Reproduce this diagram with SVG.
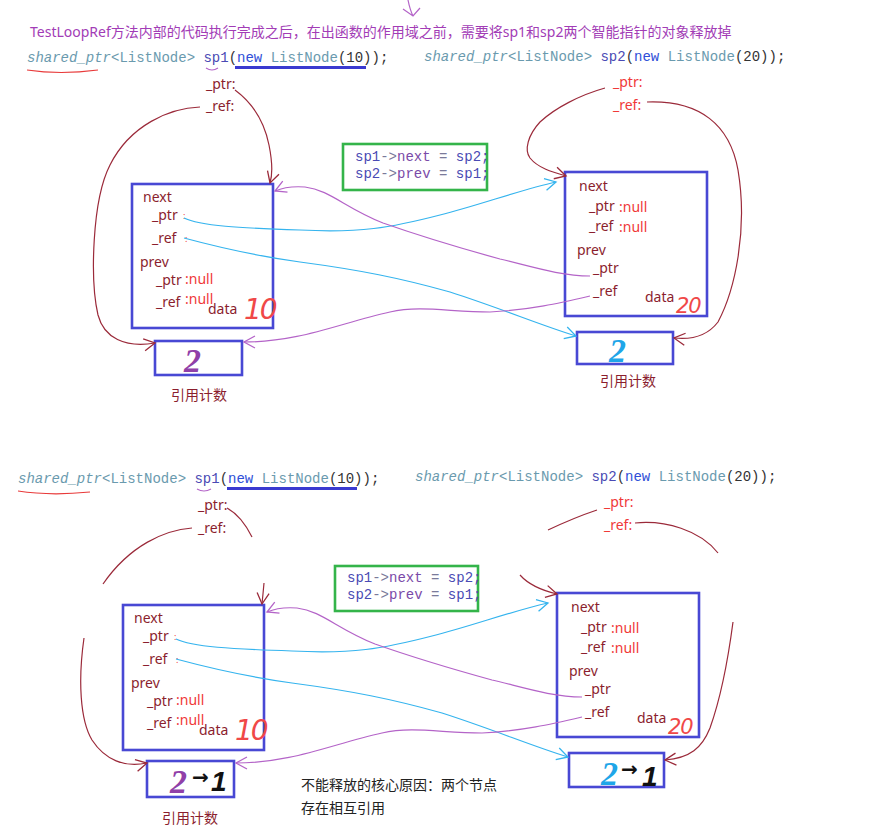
<svg xmlns="http://www.w3.org/2000/svg" width="869" height="832" viewBox="0 0 869 832">
<style>
text{font-family:"Noto Sans","Noto Sans CJK SC",sans-serif;font-size:14px}
.mono{font-family:"Liberation Mono",monospace;font-size:14px}
.lbl{fill:#8b1e2e}
.red{fill:#f03838}
.colon{font-size:9px}
.box{fill:#fff;stroke:#4848d4;stroke-width:2.6}
.cnt{fill:#fff;stroke:#4848d4;stroke-width:2.6}
.green{fill:none;stroke:#34b44a;stroke-width:2.6}
.cr{fill:none;stroke:#9b2a3a;stroke-width:1.2}
.cb{fill:none;stroke:#35b4ee;stroke-width:1.2}
.cp{fill:none;stroke:#b464c8;stroke-width:1.2}
.ty{fill:#6a9aae}
.tp{fill:#4a4ab4}
.tn{fill:#2f4fd8}
.tk{fill:#333}
.num{font-family:"DejaVu Sans",sans-serif;font-weight:200;font-style:italic;font-size:28px;letter-spacing:-2px;fill:#f04848}
.num2{font-family:"DejaVu Sans",sans-serif;font-weight:200;font-style:italic;font-size:21px;letter-spacing:-1px;fill:#f04848}
.big{font-family:"Liberation Serif",serif;font-style:italic;font-weight:bold;font-size:34px}
.one{font-family:"Liberation Sans",sans-serif;font-style:italic;font-weight:bold;font-size:28px;fill:#111}
.arr{font-family:"DejaVu Sans",sans-serif;font-size:20px;font-weight:bold;fill:#111}
</style>
<defs>
<marker id="ar" viewBox="0 0 14 14" refX="12" refY="7" markerWidth="14" markerHeight="14" markerUnits="userSpaceOnUse" orient="auto"><path d="M1,1 L12,7 L1,13" fill="none" stroke="#9b2a3a" stroke-width="1.3"/></marker>
<marker id="ab" viewBox="0 0 14 14" refX="12" refY="7" markerWidth="14" markerHeight="14" markerUnits="userSpaceOnUse" orient="auto"><path d="M1,1 L12,7 L1,13" fill="none" stroke="#35b4ee" stroke-width="1.3"/></marker>
<marker id="ap" viewBox="0 0 14 14" refX="12" refY="7" markerWidth="14" markerHeight="14" markerUnits="userSpaceOnUse" orient="auto"><path d="M1,1 L12,7 L1,13" fill="none" stroke="#b464c8" stroke-width="1.3"/></marker>
</defs>
<rect width="869" height="832" fill="#fff"/>

<g id="title">
<text x="30" y="37" fill="#a23cb6">TestLoopRef方法内部的代码执行完成之后，在出函数的作用域之前，需要将sp1和sp2两个智能指针的对象释放掉</text>
<path d="M408,0 Q410,10 413,16 M403,9 L413,16 L420,8" fill="none" stroke="#b464c8" stroke-width="1.2"/>
</g>

<!-- ===== TOP SECTION ===== -->
<g id="code-sp1">
<text class="mono" x="27" y="62" xml:space="preserve"><tspan class="ty" font-style="italic">shared_ptr</tspan><tspan class="ty">&lt;ListNode&gt; </tspan><tspan class="tp">sp1</tspan><tspan class="tk">(</tspan><tspan class="tn">new</tspan><tspan class="ty"> ListNode</tspan><tspan class="tk">(10));</tspan></text>
<path d="M235,67.5 H366" stroke="#3a3ad0" stroke-width="3"/>
<path d="M27,70 Q60,75 98,70" fill="none" stroke="#e83a3a" stroke-width="1.2"/>
<path d="M206,68 Q212,72 218,68" fill="none" stroke="#b464c8" stroke-width="1.2"/>
</g>
<g id="code-sp2">
<text class="mono" x="424" y="61" xml:space="preserve"><tspan class="ty" font-style="italic">shared_ptr</tspan><tspan class="ty">&lt;ListNode&gt; </tspan><tspan class="tp">sp2</tspan><tspan class="tk">(</tspan><tspan class="tn">new</tspan><tspan class="ty"> ListNode</tspan><tspan class="tk">(20));</tspan></text>
</g>
<g id="sp1-fields">
<text class="lbl" x="206" y="89">_ptr:</text>
<text class="lbl" x="206" y="111">_ref:</text>
</g>
<g id="sp2-fields">
<text class="red" x="613" y="87">_ptr:</text>
<text class="red" x="613" y="110">_ref:</text>
</g>
<g id="node1">
<rect class="box" x="132" y="184" width="141" height="144"/>
<text class="lbl" x="143" y="202">next</text>
<text class="lbl" x="152" y="220">_ptr</text><text class="red colon" x="183" y="219">:</text>
<text class="lbl" x="152" y="243">_ref</text><text class="red colon" x="185" y="242">:</text>
<text class="lbl" x="140" y="267">prev</text>
<text class="lbl" x="156" y="285">_ptr</text><text class="red" x="185" y="284">:null</text>
<text class="lbl" x="156" y="307">_ref</text><text class="red" x="185" y="304">:null</text>
<text class="lbl" x="208" y="314">data</text>
<text class="num" x="244" y="319">10</text>
</g>
<g id="count1">
<rect class="cnt" x="155" y="341" width="87" height="34"/>
<text class="big" x="184" y="372" fill="#9040a8">2</text>
<text class="lbl" x="171" y="400">引用计数</text>
</g>
<g id="node2">
<rect class="box" x="565" y="172" width="142" height="144"/>
<text class="lbl" x="579" y="191">next</text>
<text class="lbl" x="589" y="211">_ptr</text><text class="red" x="619" y="212">:null</text>
<text class="lbl" x="589" y="231">_ref</text><text class="red" x="619" y="232">:null</text>
<text class="lbl" x="577" y="255">prev</text>
<text class="lbl" x="593" y="273">_ptr</text>
<text class="lbl" x="593" y="296">_ref</text>
<text class="lbl" x="645" y="302">data</text>
<text class="num2" x="676" y="313">20</text>
</g>
<g id="count2">
<rect class="cnt" x="577" y="332" width="96" height="32"/>
<text class="big" x="609" y="362" fill="#1fa6e8">2</text>
<text class="lbl" x="600" y="386">引用计数</text>
</g>
<g id="assign">
<rect class="green" x="343" y="144" width="144" height="46"/>
<text class="mono" x="355" y="161" xml:space="preserve"><tspan class="tp">sp1</tspan><tspan fill="#7a7a9a">-&gt;</tspan><tspan fill="#7a4aa8">next</tspan><tspan fill="#7a7a9a"> = </tspan><tspan class="tp">sp2;</tspan></text>
<text class="mono" x="355" y="178" xml:space="preserve"><tspan class="tp">sp2</tspan><tspan fill="#7a7a9a">-&gt;</tspan><tspan fill="#7a4aa8">prev</tspan><tspan fill="#7a7a9a"> = </tspan><tspan class="tp">sp1;</tspan></text>
</g>

<!-- ===== BOTTOM SECTION ===== -->
<g id="code-sp1-b">
<text class="mono" x="18" y="483" xml:space="preserve"><tspan class="ty" font-style="italic">shared_ptr</tspan><tspan class="ty">&lt;ListNode&gt; </tspan><tspan class="tp">sp1</tspan><tspan class="tk">(</tspan><tspan class="tn">new</tspan><tspan class="ty"> ListNode</tspan><tspan class="tk">(10));</tspan></text>
<path d="M227,488.5 H357" stroke="#3a3ad0" stroke-width="3"/>
<path d="M18,491 Q50,496 90,492" fill="none" stroke="#e83a3a" stroke-width="1.2"/>
<path d="M197,489 Q204,493 211,489" fill="none" stroke="#b464c8" stroke-width="1.2"/>
</g>
<g id="code-sp2-b">
<text class="mono" x="415" y="481" xml:space="preserve"><tspan class="ty" font-style="italic">shared_ptr</tspan><tspan class="ty">&lt;ListNode&gt; </tspan><tspan class="tp">sp2</tspan><tspan class="tk">(</tspan><tspan class="tn">new</tspan><tspan class="ty"> ListNode</tspan><tspan class="tk">(20));</tspan></text>
</g>
<g id="sp1-fields-b">
<text class="lbl" x="198" y="510">_ptr:</text>
<text class="lbl" x="198" y="533">_ref:</text>
</g>
<g id="sp2-fields-b">
<text class="red" x="604" y="507">_ptr:</text>
<text class="red" x="604" y="530">_ref:</text>
</g>
<g id="node1-b" transform="translate(-9,421)">
<rect class="box" x="132" y="184" width="141" height="145"/>
<text class="lbl" x="143" y="202">next</text>
<text class="lbl" x="152" y="220">_ptr</text><text class="red colon" x="183" y="219">:</text>
<text class="lbl" x="152" y="243">_ref</text><text class="red colon" x="185" y="242">:</text>
<text class="lbl" x="140" y="267">prev</text>
<text class="lbl" x="156" y="285">_ptr</text><text class="red" x="185" y="284">:null</text>
<text class="lbl" x="156" y="307">_ref</text><text class="red" x="185" y="304">:null</text>
<text class="lbl" x="208" y="314">data</text>
<text class="num" x="244" y="319">10</text>
</g>
<g id="count1-b">
<rect class="cnt" x="147" y="761" width="87" height="36"/>
<text class="big" x="170" y="793" fill="#9040a8">2</text>
<text class="arr" x="192" y="784">→</text>
<text class="one" x="211" y="791">1</text>
<text class="lbl" x="162" y="823">引用计数</text>
</g>
<g id="node2-b" transform="translate(-8,421)">
<rect class="box" x="565" y="172" width="142" height="144"/>
<text class="lbl" x="579" y="191">next</text>
<text class="lbl" x="589" y="211">_ptr</text><text class="red" x="619" y="212">:null</text>
<text class="lbl" x="589" y="231">_ref</text><text class="red" x="619" y="232">:null</text>
<text class="lbl" x="577" y="255">prev</text>
<text class="lbl" x="593" y="273">_ptr</text>
<text class="lbl" x="593" y="296">_ref</text>
<text class="lbl" x="645" y="302">data</text>
<text class="num2" x="676" y="313">20</text>
</g>
<g id="count2-b">
<rect class="cnt" x="569" y="753" width="95" height="34"/>
<text class="big" x="601" y="785" fill="#1fa6e8">2</text>
<text class="arr" x="621" y="776">→</text>
<text class="one" x="642" y="786">1</text>
</g>
<g id="assign-b">
<rect class="green" x="335" y="566" width="143" height="45"/>
<text class="mono" x="347" y="582" xml:space="preserve"><tspan class="tp">sp1</tspan><tspan fill="#7a7a9a">-&gt;</tspan><tspan fill="#7a4aa8">next</tspan><tspan fill="#7a7a9a"> = </tspan><tspan class="tp">sp2;</tspan></text>
<text class="mono" x="347" y="599" xml:space="preserve"><tspan class="tp">sp2</tspan><tspan fill="#7a7a9a">-&gt;</tspan><tspan fill="#7a4aa8">prev</tspan><tspan fill="#7a7a9a"> = </tspan><tspan class="tp">sp1;</tspan></text>
</g>
<g id="note">
<text x="301" y="790" fill="#222">不能释放的核心原因：两个节点</text>
<text x="301" y="813" fill="#222">存在相互引用</text>
</g>

<g id="connectors">
<!-- top -->
<path class="cr" d="M235,90 Q262,110 269,145 Q274,170 270,183" marker-end="url(#ar)"/>
<path class="cr" d="M200,107 C170,108 130,125 110,165 C92,200 90,280 98,315 C104,338 125,348 155,343" marker-end="url(#ar)"/>
<path class="cr" d="M605,88 C580,95 555,108 540,122 C528,135 524,150 530,158 C538,168 552,172 566,176" marker-end="url(#ar)"/>
<path class="cr" d="M647,102 C700,100 730,125 738,170 C748,230 735,290 718,322 C708,335 692,340 674,338" marker-end="url(#ar)"/>
<g id="links-top">
<path class="cb" d="M184,218 C200,226 240,228 300,230 C360,233 390,228 440,215 C480,205 520,190 556,182" marker-end="url(#ab)"/>
<path class="cb" d="M184,238 C210,245 250,255 300,262 C360,270 400,278 450,292 C500,308 540,325 576,336" marker-end="url(#ab)"/>
<path class="cp" d="M590,276 C560,276 530,266 500,259 C460,248 420,236 383,223 C345,208 330,190 305,187 C292,186 282,188 275,191" marker-end="url(#ap)"/>
<path class="cp" d="M590,296 C560,303 530,310 490,312 C450,312 420,305 390,312 C340,323 300,342 244,342" marker-end="url(#ap)"/>
</g>
<!-- bottom -->
<g transform="translate(-8,421)">
<path class="cb" d="M184,218 C200,226 240,228 300,230 C360,233 390,228 440,215 C480,205 520,190 556,182" marker-end="url(#ab)"/>
<path class="cb" d="M184,238 C210,245 250,255 300,262 C360,270 400,278 450,292 C500,308 540,325 576,336" marker-end="url(#ab)"/>
<path class="cp" d="M590,276 C560,276 530,266 500,259 C460,248 420,236 383,223 C345,208 330,190 305,187 C292,186 282,188 275,191" marker-end="url(#ap)"/>
<path class="cp" d="M590,296 C560,303 530,310 490,312 C450,312 420,305 390,312 C340,323 300,342 244,342" marker-end="url(#ap)"/>
</g>
<path class="cr" d="M227,508 C238,514 246,525 252,537"/>
<path class="cr" d="M192,528 C165,530 130,545 103,584"/>
<path class="cr" d="M264,583 Q263,594 262,604" marker-end="url(#ar)"/>
<path class="cr" d="M84,638 C78,680 80,720 92,740 C105,760 125,768 147,763" marker-end="url(#ar)"/>
<path class="cr" d="M597,510 C585,514 565,522 548,530"/>
<path class="cr" d="M635,523 C665,520 700,530 718,553"/>
<path class="cr" d="M520,575 C528,584 540,590 557,594" marker-end="url(#ar)"/>
<path class="cr" d="M733,622 C728,660 720,700 710,728 C702,748 690,758 665,760" marker-end="url(#ar)"/>
</g>
</svg>
